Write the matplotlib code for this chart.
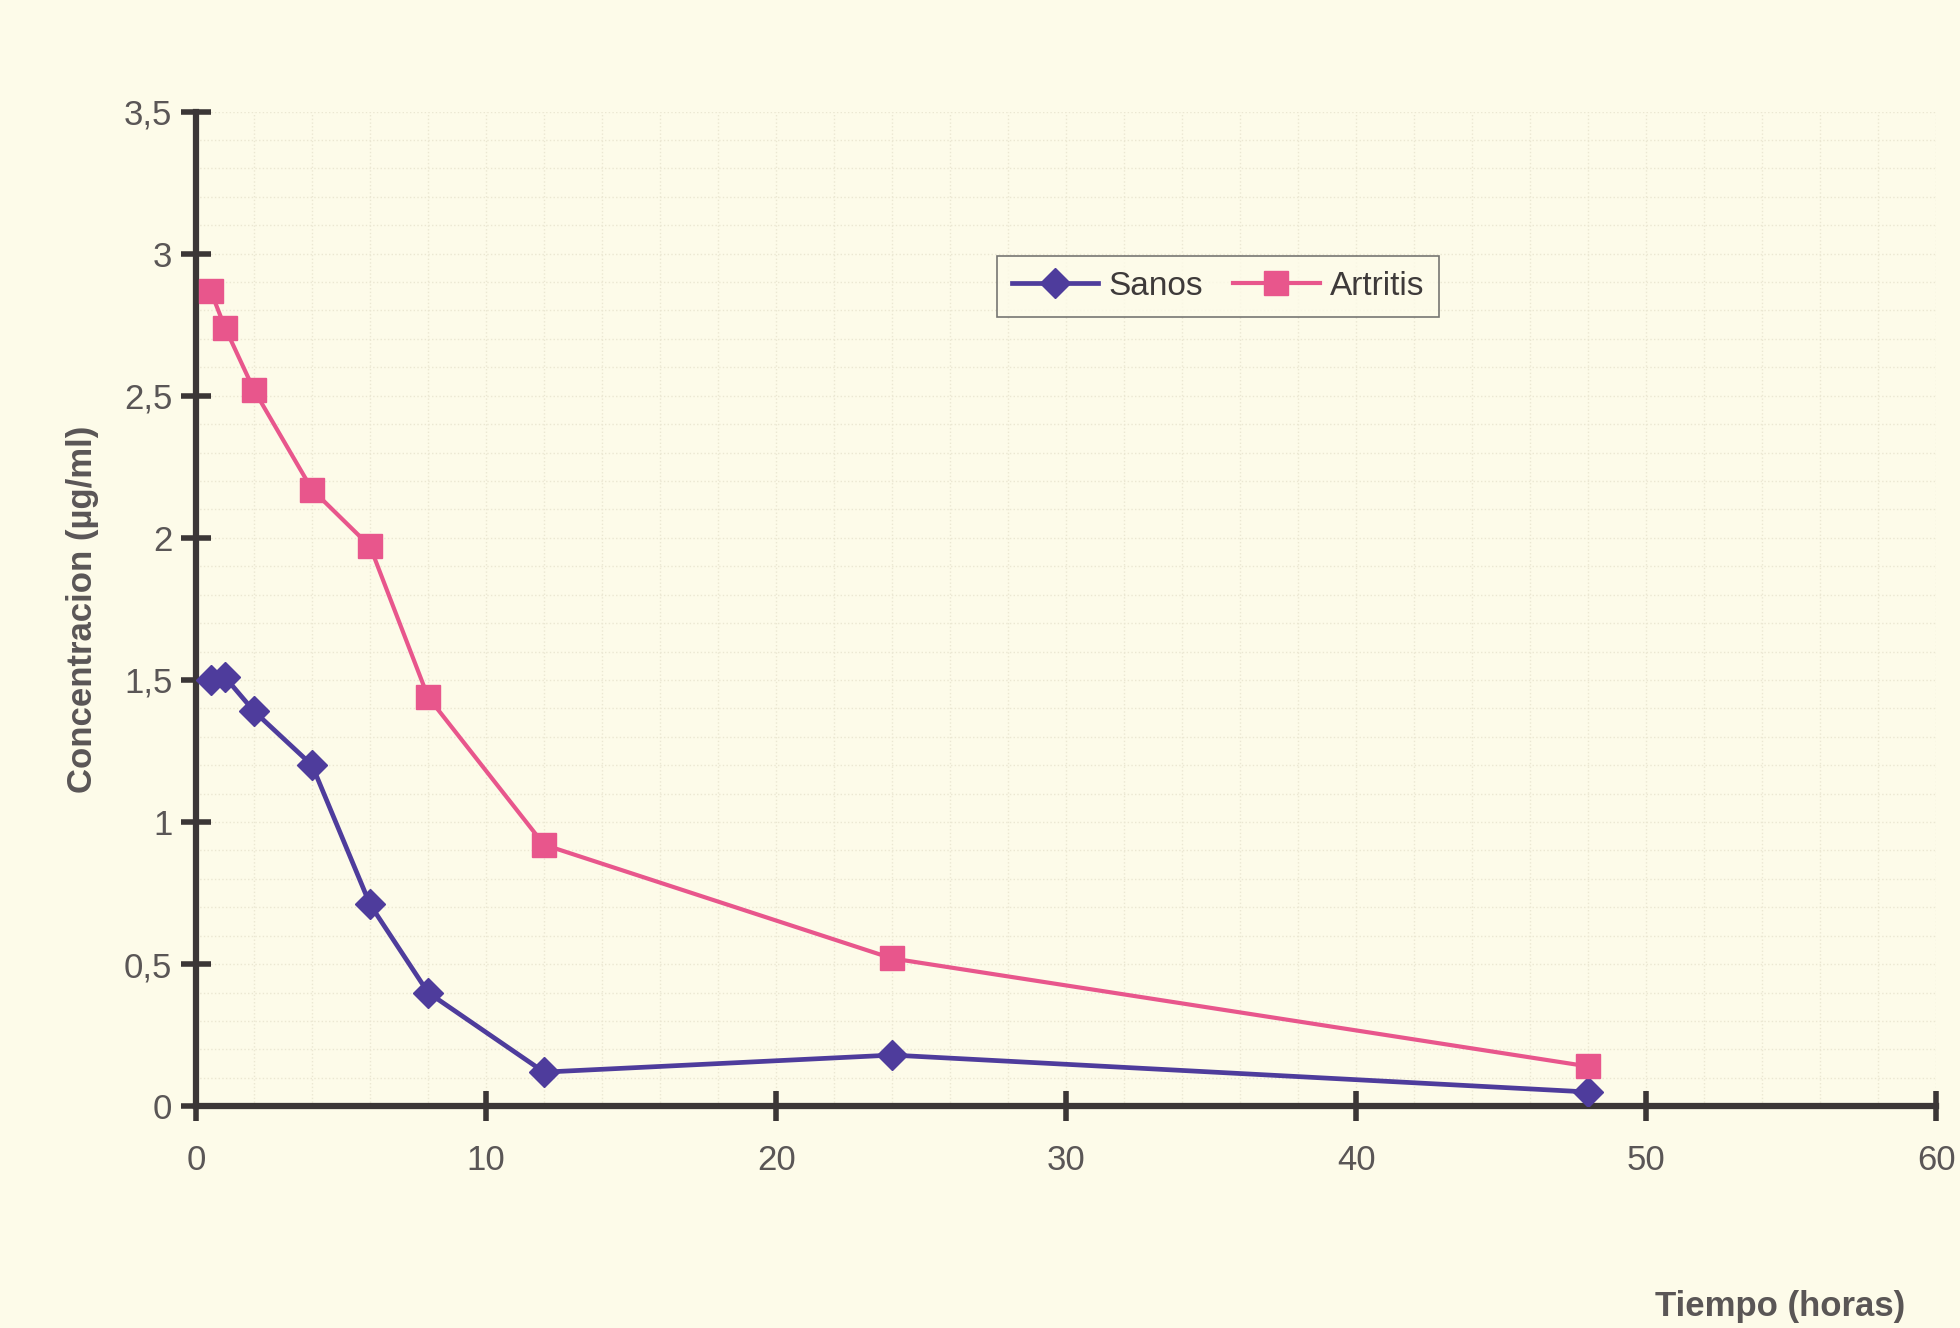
import matplotlib
matplotlib.use('Agg')
import matplotlib.pyplot as plt

# datos
tiempo = [0.5, 1, 2, 4, 6, 8, 12, 24, 48]
sanos = [1.50, 1.51, 1.39, 1.20, 0.71, 0.40, 0.12, 0.18, 0.05]
artritis = [2.87, 2.74, 2.52, 2.17, 1.97, 1.44, 0.92, 0.52, 0.14]

x_ticks = [0, 10, 20, 30, 40, 50, 60]
y_ticks = [0, 0.5, 1, 1.5, 2, 2.5, 3, 3.5]
y_labels = ['0', '0,5', '1', '1,5', '2', '2,5', '3', '3,5']

plt.rcParams['font.family'] = ['Liberation Sans', 'DejaVu Sans']

fondo = '#fdfbe9'
color_sanos = '#4e3c9c'
color_artritis = '#e8568c'
color_eje = '#3b3636'
color_texto = '#5a5656'

fig = plt.figure(figsize=(19.6, 13.28), dpi=100, facecolor=fondo)
ax = fig.add_axes([0.1, 0.167, 0.888, 0.749])
ax.set_facecolor(fondo)

ax.plot(tiempo, sanos, color=color_sanos, marker='D', markersize=15,
        linewidth=3.4, label='Sanos', zorder=3)
ax.plot(tiempo, artritis, color=color_artritis, marker='s', markersize=17,
        linewidth=3.0, label='Artritis', zorder=3)

ax.set_xlim(0, 60)
ax.set_ylim(0, 3.5)
ax.set_xticks(x_ticks)
ax.set_yticks(y_ticks)
ax.set_yticklabels(y_labels)

# cuadricula punteada muy tenue
ax.set_xticks([i for i in range(0, 61, 2)], minor=True)
ax.set_yticks([i * 0.1 for i in range(0, 36)], minor=True)
ax.grid(which='both', color='#ebe7d2', linestyle=':', linewidth=1.0)
ax.tick_params(which='minor', length=0)

for s in ['top', 'right']:
    ax.spines[s].set_visible(False)
for s in ['left', 'bottom']:
    ax.spines[s].set_color(color_eje)
    ax.spines[s].set_linewidth(4.5)

ax.tick_params(axis='both', which='major', direction='inout', length=22,
               width=4, color=color_eje, labelsize=25, labelcolor=color_texto, pad=6)
ax.tick_params(axis='x', pad=16)

ax.set_ylabel('Concentracion (µg/ml)', fontsize=25, fontweight='bold',
              color=color_texto, labelpad=18)
fig.text(0.972, 0.004, 'Tiempo (horas)', fontsize=25, fontweight='bold',
         color=color_texto, ha='right', va='bottom')

leg = ax.legend(loc='upper left', bbox_to_anchor=(0.4505, 0.872), ncol=2,
                fontsize=24, frameon=True, fancybox=False, handlelength=2.6,
                handletextpad=0.3, columnspacing=0.9, borderpad=0.45)
leg.get_frame().set_edgecolor('#555555')
leg.get_frame().set_linewidth(1.2)
leg.get_frame().set_facecolor(fondo)
for t in leg.get_texts():
    t.set_color('#3e3a3a')

fig.savefig('out.png', dpi=100, facecolor=fondo)
